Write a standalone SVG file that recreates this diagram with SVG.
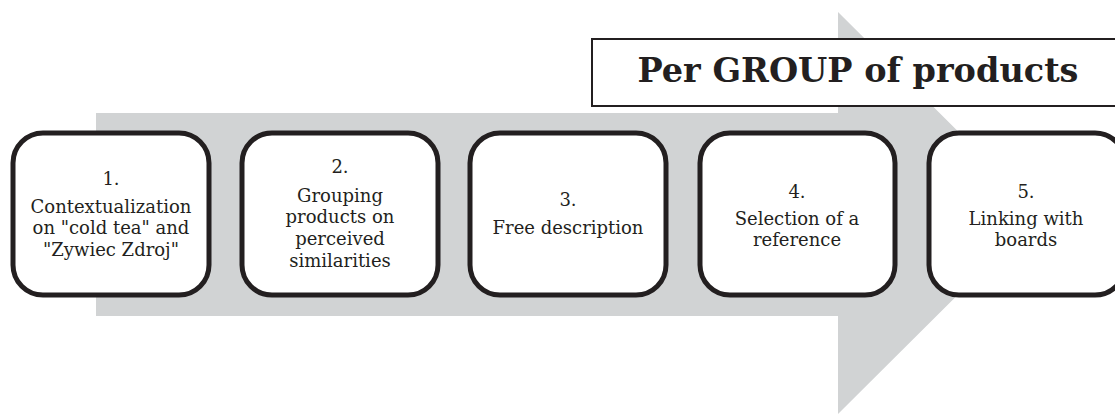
<svg xmlns="http://www.w3.org/2000/svg" width="1115" height="414" viewBox="0 0 1115 414">
<style>
.bg{fill:#d1d3d4}
.node rect{fill:#fff;stroke:#231f20;stroke-width:5}
.t{font-family:"DejaVu Serif","Liberation Serif",serif;font-size:18px;fill:#231f20;text-anchor:middle}
.title{font-family:"DejaVu Serif","Liberation Serif",serif;font-size:33.5px;font-weight:bold;fill:#231f20;text-anchor:middle}
</style>
<rect width="1115" height="414" fill="#fff"/>
<g id="arrow">
<polygon class="bg" points="96,113 838,113 838,12 1040,213 838,414 838,316 96,316"/>
</g>
<g id="title">
<rect x="592" y="39" width="530" height="67" fill="#fff" stroke="#231f20" stroke-width="2"/>
<text class="title" x="858" y="82">Per GROUP of products</text>
</g>
<g id="connectors"></g>
<g id="n1" class="node">
<rect x="13" y="133" width="196" height="162" rx="30"/>
<text class="t" x="111" y="185">1.</text>
<text class="t" x="111" y="213">Contextualization</text>
<text class="t" x="111" y="234">on "cold tea" and</text>
<text class="t" x="111" y="256">"Zywiec Zdroj"</text>
</g>
<g id="n2" class="node">
<rect x="242" y="133" width="196" height="162" rx="30"/>
<text class="t" x="340" y="173">2.</text>
<text class="t" x="340" y="202">Grouping</text>
<text class="t" x="340" y="223">products on</text>
<text class="t" x="340" y="245">perceived</text>
<text class="t" x="340" y="267">similarities</text>
</g>
<g id="n3" class="node">
<rect x="470" y="133" width="196" height="162" rx="30"/>
<text class="t" x="568" y="206">3.</text>
<text class="t" x="568" y="234">Free description</text>
</g>
<g id="n4" class="node">
<rect x="700" y="133" width="195" height="162" rx="30"/>
<text class="t" x="797" y="198">4.</text>
<text class="t" x="797" y="225">Selection of a</text>
<text class="t" x="797" y="246">reference</text>
</g>
<g id="n5" class="node">
<rect x="929" y="133" width="196" height="162" rx="30"/>
<text class="t" x="1026" y="198">5.</text>
<text class="t" x="1026" y="225">Linking with</text>
<text class="t" x="1026" y="246">boards</text>
</g>
</svg>
